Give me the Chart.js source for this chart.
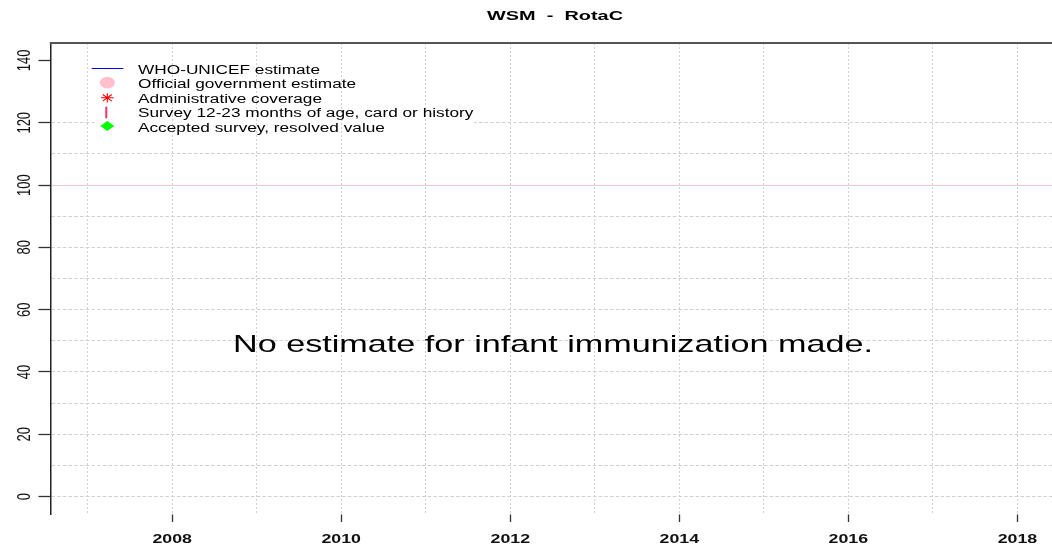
<!DOCTYPE html>
<html>
<head>
<meta charset="utf-8">
<script src="https://cdn.jsdelivr.net/npm/chart.js@4.4.0/dist/chart.umd.min.js"></script>
<style>
html,body{margin:0;padding:0;background:#fff;overflow:hidden;width:1052px;height:548px}
#wrap{position:relative;width:1056px;height:548px}
</style>
</head>
<body>
<div id="wrap"><canvas id="c" width="1056" height="548"></canvas></div>
<script>
// ---- chart content ----
const chartTitle = 'WSM  -  RotaC';
const noDataMessage = 'No estimate for infant immunization made.';
const years = [2007, 2008, 2009, 2010, 2011, 2012, 2013, 2014, 2015, 2016, 2017, 2018];
const yearLabels = [2008, 2010, 2012, 2014, 2016, 2018];
const yGridValues = [0, 10, 20, 30, 40, 50, 60, 70, 80, 90, 100, 110, 120, 130, 140];
const yLabelValues = [0, 20, 40, 60, 80, 100, 120, 140];
const seriesNames = [
  'WHO-UNICEF estimate',
  'Official government estimate',
  'Administrative coverage',
  'Survey 12-23 months of age, card or history',
  'Accepted survey, resolved value'
];
// No estimates were made: every series is empty
const whoUnicefEstimate = [];
const officialEstimate = [];
const adminCoverage = [];
const surveyCoverage = [];
const acceptedSurvey = [];

const X_MIN = 2006.56, X_MAX = 2018.44, Y_MIN = -5.6, Y_MAX = 145.6;
const FONT = '"Liberation Sans", Arial, sans-serif';
const CLEAR = 'rgba(0,0,0,0)';

function drawText(ctx, s, x, y, font, sx, align, color) {
  ctx.save();
  ctx.font = font;
  ctx.fillStyle = color || '#000';
  ctx.textAlign = align || 'left';
  ctx.textBaseline = 'alphabetic';
  ctx.translate(x, y);
  ctx.scale(sx, 1);
  ctx.fillText(s, 0, 0);
  ctx.restore();
}
function fitScale(ctx, s, font, target) {
  ctx.save(); ctx.font = font; const w = ctx.measureText(s).width; ctx.restore();
  return target / w;
}

const overlayPlugin = {
  id: 'overlay',
  beforeDatasetsDraw(chart) {
    const ctx = chart.ctx;
    ctx.save();
    // legend background hides the horizontal grid behind the legend block
    ctx.fillStyle = '#fff';
    ctx.fillRect(97, 116, 377, 12);
    ctx.restore();
  },
  afterDraw(chart) {
    const ctx = chart.ctx;
    const a = chart.chartArea;
    const xs = chart.scales.x, ys = chart.scales.y;

    // clean margin above the plot, then the top frame line
    ctx.save();
    ctx.fillStyle = '#fff';
    ctx.fillRect(0, 0, chart.width, a.top - 1);
    ctx.strokeStyle = '#555';
    ctx.lineWidth = 2;
    ctx.beginPath(); ctx.moveTo(a.left - 0.75, a.top); ctx.lineTo(a.right + 2, a.top); ctx.stroke();
    ctx.restore();

    // title
    const tFont = 'bold 13px ' + FONT;
    drawText(ctx, chartTitle, 555, 20, tFont, fitScale(ctx, chartTitle, tFont, 136), 'center', '#000');

    // x tick labels
    const xFont = 'bold 13px ' + FONT;
    const xsx = fitScale(ctx, '2008', xFont, 39.5);
    yearLabels.forEach(v => drawText(ctx, String(v), xs.getPixelForValue(v), 543, xFont, xsx, 'center', '#111'));

    // y tick labels (rotated)
    const yFont = '13px ' + FONT;
    yLabelValues.forEach(v => {
      ctx.save();
      ctx.font = yFont;
      ctx.fillStyle = '#111';
      ctx.textAlign = 'center';
      ctx.textBaseline = 'alphabetic';
      ctx.translate(29.5, ys.getPixelForValue(v));
      ctx.rotate(-Math.PI / 2);
      ctx.scale(1, 1.35);
      ctx.fillText(String(v), 0, 0);
      ctx.restore();
    });

    // legend
    const lFont = '12.5px ' + FONT;
    const lsx = fitScale(ctx, seriesNames[0], lFont, 182);
    const baselines = [74, 87.7, 103, 117.3, 132.3];
    const ds = chart.data.datasets;
    ds.forEach((d, i) => drawText(ctx, d.label, 138, baselines[i], lFont, lsx, 'left', '#000'));
    const cx = 107.3;
    ctx.save();
    // blue line
    ctx.strokeStyle = ds[0].borderColor; ctx.lineWidth = 1;
    ctx.beginPath(); ctx.moveTo(91.7, 68.5); ctx.lineTo(123.3, 68.5); ctx.stroke();
    // pink disc
    ctx.fillStyle = ds[1].backgroundColor;
    ctx.beginPath(); ctx.ellipse(cx, 82.6, 7.6, 5.8, 0, 0, Math.PI * 2); ctx.fill();
    // red asterisk
    ctx.strokeStyle = ds[2].borderColor; ctx.lineWidth = 1.1;
    const ay = 97.8;
    ctx.beginPath();
    ctx.moveTo(cx, ay - 4.6); ctx.lineTo(cx, ay + 4.6);
    ctx.moveTo(cx - 6.3, ay); ctx.lineTo(cx + 6.3, ay);
    ctx.moveTo(cx - 4.5, ay - 3.3); ctx.lineTo(cx + 4.5, ay + 3.3);
    ctx.moveTo(cx - 4.5, ay + 3.3); ctx.lineTo(cx + 4.5, ay - 3.3);
    ctx.stroke();
    // survey tick
    ctx.strokeStyle = ds[3].borderColor; ctx.lineWidth = 2;
    ctx.beginPath(); ctx.moveTo(cx - 1, 106.7); ctx.lineTo(cx - 1, 118.3); ctx.stroke();
    // green diamond
    ctx.fillStyle = ds[4].backgroundColor;
    ctx.beginPath();
    ctx.moveTo(cx, 121); ctx.lineTo(cx + 7, 126); ctx.lineTo(cx, 131); ctx.lineTo(cx - 7, 126);
    ctx.closePath(); ctx.fill();
    ctx.restore();

    // message
    const mFont = '24px ' + FONT;
    drawText(ctx, noDataMessage, 553, 352, mFont, fitScale(ctx, noDataMessage, mFont, 640), 'center', '#000');
  }
};

new Chart(document.getElementById('c'), {
  type: 'scatter',
  data: {
    datasets: [
      { label: seriesNames[0], type: 'line', data: whoUnicefEstimate, borderColor: '#0000ff', borderWidth: 1, pointRadius: 0 },
      { label: seriesNames[1], data: officialEstimate, backgroundColor: '#ffc0cb', borderColor: '#ffc0cb', pointStyle: 'circle', pointRadius: 6 },
      { label: seriesNames[2], data: adminCoverage, borderColor: '#ff0000', pointStyle: 'star', pointRadius: 5 },
      { label: seriesNames[3], data: surveyCoverage, borderColor: '#f2336b', pointStyle: 'line', rotation: 90, pointRadius: 6 },
      { label: seriesNames[4], data: acceptedSurvey, backgroundColor: '#00ff00', borderColor: '#00ff00', pointStyle: 'rectRot', pointRadius: 6 }
    ]
  },
  options: {
    responsive: false,
    animation: false,
    devicePixelRatio: 1,
    layout: { padding: { top: 43, left: 0, right: 1.4, bottom: 0 } },
    plugins: { legend: { display: false }, title: { display: false }, tooltip: { enabled: false } },
    scales: {
      x: {
        type: 'linear', position: 'bottom', min: X_MIN, max: X_MAX,
        afterBuildTicks: s => { s.ticks = years.map(v => ({ value: v })); },
        afterFit: s => { s.height = 34; },
        ticks: { display: false },
        grid: {
          z: 1, color: '#d0d0d0', lineWidth: 1, tickLength: 8, tickWidth: 1.3,
          tickColor: c => (c.tick && yearLabels.includes(c.tick.value)) ? '#333' : CLEAR
        },
        border: { display: true, color: '#333', width: 1.5, dash: [2, 2] }
      },
      y: {
        type: 'linear', position: 'left', min: Y_MIN, max: Y_MAX,
        afterBuildTicks: s => { s.ticks = yGridValues.map(v => ({ value: v })); },
        afterFit: s => { s.width = 50.5; },
        ticks: { display: false },
        grid: {
          lineWidth: 1, tickLength: 12, tickWidth: 1.3,
          color: c => {
            const v = c.tick ? c.tick.value : null;
            if (v === null || v > 120) return CLEAR;
            if (v === 100) return '#f4c4cc';
            return '#d0d0d0';
          },
          tickColor: c => (c.tick && yLabelValues.includes(c.tick.value)) ? '#333' : CLEAR
        },
        border: { display: true, color: '#222', width: 1.5, dash: c => (c.tick && c.tick.value === 100) ? [] : [3.5, 2.2] }
      }
    }
  },
  plugins: [overlayPlugin]
});
</script>
</body>
</html>
